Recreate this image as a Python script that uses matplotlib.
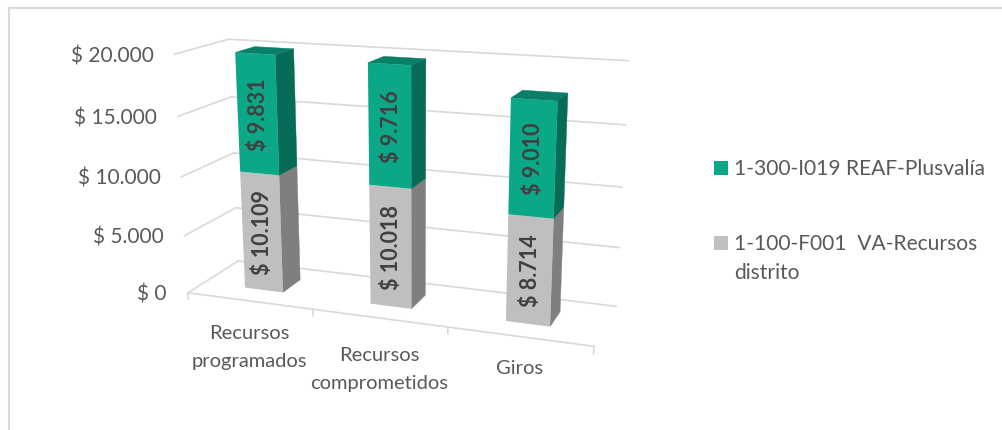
import numpy as np
import matplotlib
matplotlib.use('Agg')
import matplotlib.pyplot as plt
from matplotlib.legend_handler import HandlerPatch
from matplotlib.patches import Patch, Polygon, Rectangle
from matplotlib.transforms import Transform

plt.rcParams['font.family'] = ['Lato', 'DejaVu Sans']

categories = ['Recursos\nprogramados', 'Recursos\ncomprometidos', 'Giros']
distrito = [10109, 10018, 8714]
plusvalia = [9831, 9716, 9010]
series_names = ['1-300-I019 REAF-Plusvalía', '1-100-F001  VA-Recursos\ndistrito']
y_ticks = [0, 5000, 10000, 15000, 20000]
y_tick_labels = ['$ 0', '$ 5.000', '$ 10.000', '$ 15.000', '$ 20.000']

GREEN, GREEN_SIDE, GREEN_TOP = '#0AA886', '#066B57', '#087F66'
GRAY, GRAY_SIDE = '#BFBFBF', '#7F7F7F'
GRID = '#D9D9D9'
TEXT = '#595959'
LABEL = '#404040'

# camera fitted to the chart's 3D box: (x, value/20000, depth, 1) -> pixel
CAMERA = np.array([[113.476638, -22.997429, 69.421141, 187.972476],
                   [5.101386, -241.680987, -10.921316, 292.807831],
                   [-0.036755, -0.055313, 0.080452, 1.0]])


class Plane(Transform):
    """Projects 2D coordinates lying on one plane of the 3D box to pixels."""
    input_dims = output_dims = 2

    def __init__(self, to_world):
        super().__init__()
        self.to_world = to_world

    def transform_non_affine(self, values):
        a, b = np.asarray(values, float).T
        X, V, Z = self.to_world(a, b)
        h = CAMERA @ np.vstack([X, V / 20000.0, Z, np.ones_like(a)])
        return (h[:2] / h[2]).T


def depth_plane(z):      # (x, value) at a given depth
    return Plane(lambda a, b: (a, b, z + 0 * a))


def side_plane(x):       # (depth, value) at a given x
    return Plane(lambda a, b: (x + 0 * a, b, a))


def level_plane(v):      # (x, depth) at a given value
    return Plane(lambda a, b: (a, v + 0 * a, b))


def square_handle(shift):
    def make(legend, orig_handle, xdescent, ydescent, width, height, fontsize):
        yc = -ydescent + height / 2 + shift
        return Rectangle((-xdescent, yc - width / 2), width, width)
    return HandlerPatch(patch_func=make)


fig = plt.figure(figsize=(10.02, 4.30), dpi=100)
ax = fig.add_axes([0, 0, 1, 1])

Z0, Z1 = 0.31, 0.69
BAR_W = 0.31
x_pos = np.arange(len(categories)) + 0.495
category_drop = [-24, -29, -24]

# frame
ax.plot([9.5, 9.5, 1002], [430, 7.5, 7.5], color=GRID, lw=1.5, solid_joinstyle='miter')

# walls and floor
back = depth_plane(1.0) + ax.transData
left = side_plane(0.0) + ax.transData
for v in y_ticks:
    ax.plot([0, 3], [v, v], color=GRID, lw=1.2, transform=back)
    ax.plot([0, 1], [v, v], color=GRID, lw=1.2, transform=left)
front = depth_plane(0.0) + ax.transData
ax.plot([0, 3], [0, 0], color=GRID, lw=1.2, transform=front)
for i in range(len(categories) + 1):
    ax.plot([i, i], [0, -560], color=GRID, lw=1.2, transform=front)

# y tick labels
for v, lab in zip(y_ticks, y_tick_labels):
    ax.annotate(lab, xy=(0, v), xycoords=left, xytext=(-21, -2), textcoords='offset pixels',
                ha='right', va='center', fontsize=15, color=TEXT)

# bars
bar_front = depth_plane(Z0) + ax.transData
for i, x in enumerate(x_pos):
    d, p = distrito[i], plusvalia[i]
    xr = x + BAR_W / 2
    side = side_plane(xr) + ax.transData
    ax.add_patch(Polygon([(Z0, 0), (Z1, 0), (Z1, d), (Z0, d)], closed=True, fc=GRAY_SIDE,
                         ec=GRAY_SIDE, lw=0.3, transform=side, zorder=3))
    ax.add_patch(Polygon([(Z0, d), (Z1, d), (Z1, d + p), (Z0, d + p)], closed=True, fc=GREEN_SIDE,
                         ec=GREEN_SIDE, lw=0.3, transform=side, zorder=3))
    top = level_plane(d + p) + ax.transData
    ax.add_patch(Polygon([(x - BAR_W / 2, Z0), (xr, Z0), (xr, Z1), (x - BAR_W / 2, Z1)], closed=True,
                         fc=GREEN_TOP, ec=GREEN_TOP, lw=0.3, transform=top, zorder=3))

ax.bar(x_pos, distrito, width=BAR_W, color=GRAY, transform=bar_front, zorder=4)
ax.bar(x_pos, plusvalia, width=BAR_W, bottom=distrito, color=GREEN, transform=bar_front, zorder=4)

for i, x in enumerate(x_pos):
    d, p = distrito[i], plusvalia[i]
    ax.text(x + 0.01, d / 2, f'$ {d:,}'.replace(',', '.'), rotation=90, ha='center', va='center',
            fontsize=15.5, fontweight='bold', color=LABEL, transform=bar_front, zorder=5)
    ax.text(x + 0.01, d + p / 2, f'$ {p:,}'.replace(',', '.'), rotation=90, ha='center', va='center',
            fontsize=15.5, fontweight='bold', color=LABEL, transform=bar_front, zorder=5)

# category labels
for i, cat in enumerate(categories):
    ax.annotate(cat, xy=(i + 0.5, 0), xycoords=front, xytext=(0, category_drop[i]), textcoords='offset pixels',
                ha='center', va='top', fontsize=14.5, color=TEXT, linespacing=1.78)

h_green = Patch(facecolor=GREEN)
h_gray = Patch(facecolor=GRAY)
leg = ax.legend([h_green, h_gray], series_names, loc='upper left', bbox_to_anchor=(714 / 1002, 1 - 159 / 430),
                frameon=False, fontsize=15.1, labelcolor=TEXT, handlelength=0.66, handleheight=0.7,
                handletextpad=0.28, labelspacing=2.6, borderpad=0, borderaxespad=0,
                handler_map={h_green: square_handle(0), h_gray: square_handle(11.5)})
leg.get_texts()[1].set_linespacing(1.58)

ax.set_xlim(0, 1002)
ax.set_ylim(430, 0)
ax.axis('off')
fig.savefig('out.png', dpi=100)
